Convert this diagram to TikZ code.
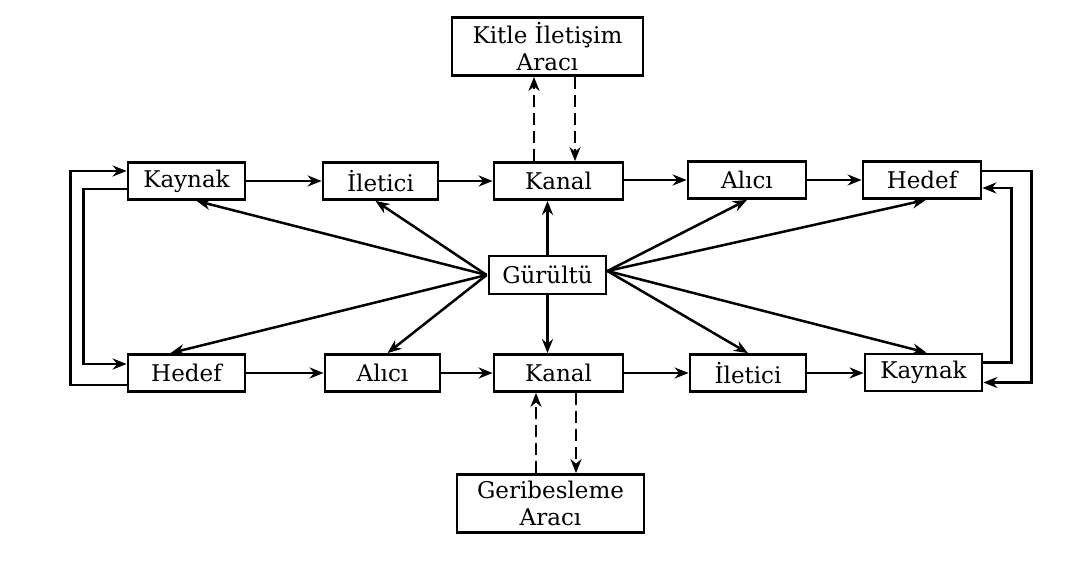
\documentclass[tikz,border=0pt]{standalone}
\usepackage{fontspec}
\setmainfont{DejaVu Serif}
\usetikzlibrary{arrows.meta,calc}
\begin{document}
\begin{tikzpicture}[x=1pt,y=-1pt,
  box/.style={draw,line width=2.8pt,minimum height=37pt,inner sep=0pt,font=\fontsize{23}{27}\selectfont,align=center},
  bigbox/.style={box,minimum height=58pt},
  arr/.style={line width=2.5pt,-{Stealth[length=14pt,width=11pt]}},
  darr/.style={arr,dash pattern=on 12pt off 6pt}]
\useasboundingbox (0,0) rectangle (1068,561);
\fill[white] (0,0) rectangle (1068,561);
% top row
\node[box,minimum width=117pt] (k1) at (186.5,181) {Kaynak};
\node[box,minimum width=115pt] (i1) at (380.5,181) {İletici};
\node[box,minimum width=129pt] (c1) at (558.5,181) {Kanal};
\node[box,minimum width=118pt] (a1) at (747,180) {Alıcı};
\node[box,minimum width=118pt] (h1) at (922,180) {Hedef};
% bottom row
\node[box,minimum width=117pt] (h2) at (186.5,373) {Hedef};
\node[box,minimum width=115pt] (a2) at (382.5,373) {Alıcı};
\node[box,minimum width=129pt] (c2) at (558.5,373) {Kanal};
\node[box,minimum width=116pt] (i2) at (748,373) {İletici};
\node[box,minimum width=117pt] (k2) at (923.5,372.5) {Kaynak};
% others
\node[bigbox,minimum width=191pt] (m) at (547.5,46.5) {Kitle İletişim\\Aracı};
\node[bigbox,minimum width=187pt] (f) at (550.5,503.5) {Geribesleme\\Aracı};
\node[box,minimum width=117pt,minimum height=38pt] (g) at (547.5,275) {Gürültü};
% horizontal flows
\draw[arr] (k1) -- (i1);
\draw[arr] (i1) -- (c1);
\draw[arr] (c1.east |- a1.west) -- (a1);
\draw[arr] (a1) -- (h1);
\draw[arr] (h2) -- (a2);
\draw[arr] (a2) -- (c2);
\draw[arr] (c2) -- (i2);
\draw[arr] (i2) -- (k2.west |- i2.east);
% dashed links
\draw[darr] ($(c1.north)+(-24.5,0)$) -- ($(m.south)+(-13.5,0)$);
\draw[darr] ($(m.south)+(27.5,0)$) -- ($(c1.north)+(16.5,0)$);
\draw[darr] ($(f.north)+(-14.5,0)$) -- ($(c2.south)+(-22.5,0)$);
\draw[darr] ($(c2.south)+(17.5,0)$) -- ($(f.north)+(25.5,0)$);
% feedback loops
\draw[arr] ($(h2.west)+(0,12)$) -| ($(k1.west)+(-56,-10)$) -- ($(k1.west)+(0,-10)$);
\draw[arr] ($(k1.west)+(0,8)$) -| ($(h2.west)+(-43,-9)$) -- ($(h2.west)+(0,-9)$);
\draw[arr] ($(h1.east)+(0,-9)$) -| ($(k2.east)+(48,10)$) -- ($(k2.east)+(0,10)$);
\draw[arr] ($(k2.east)+(0,-10)$) -| ($(h1.east)+(29,8)$) -- ($(h1.east)+(0,8)$);
% noise
\coordinate (gl) at ($(g.west)+(-1,0)$);
\coordinate (gr) at ($(g.east)+(0,-4)$);
\draw[arr] (g.north) -- (g.north |- c1.south);
\draw[arr] (g.south) -- (g.south |- c2.north);
\draw[arr] (gl) -- ($(k1.south)+(10,0)$);
\draw[arr] (gl) -- ($(i1.south)+(-5,0)$);
\draw[arr] (gl) -- ($(h2.north)+(-16,0)$);
\draw[arr] (gl) -- ($(a2.north)+(5,0)$);
\draw[arr] (gr) -- (a1.south);
\draw[arr] (gr) -- ($(h1.south)+(4,0)$);
\draw[arr] (gr) -- (i2.north);
\draw[arr] (gr) -- ($(k2.north)+(3,0)$);
\end{tikzpicture}
\end{document}
